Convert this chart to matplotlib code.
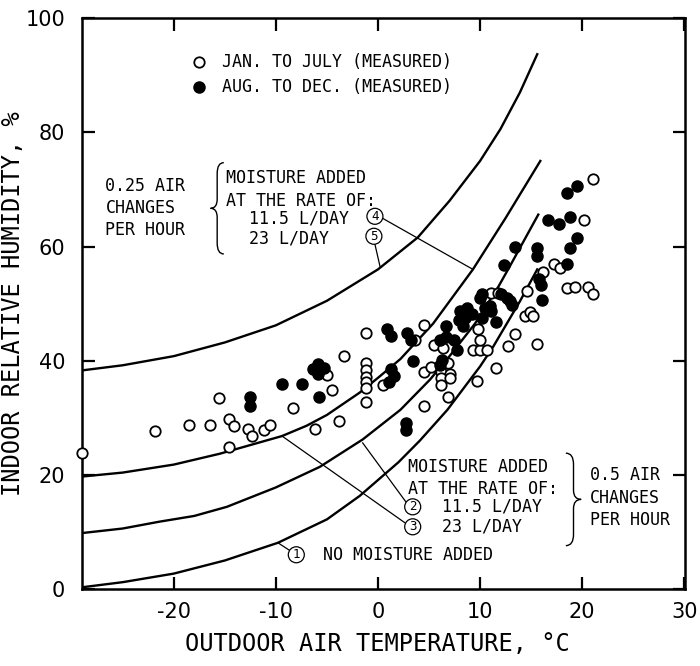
import matplotlib
matplotlib.use('Agg')
import matplotlib.pyplot as plt
from matplotlib.path import Path
from matplotlib.patches import PathPatch


# curves (outdoor temp, indoor RH)
c1_x = [-29.0, -25, -20, -15, -9.8, -5, -1.8, 2, 4.1, 6.8, 10, 11.3, 13.9, 15.6]
c1_y = [0.3, 1.2, 2.7, 5.0, 8.1, 12.2, 16.3, 22.2, 26.0, 31.4, 39.0, 42.5, 50.4, 56.0]

c2_x = [-29.0, -25, -21.4, -18, -14.8, -10, -5.7, -1.5, 2.2, 5.1, 7.1, 9.5, 11.8, 12.9, 15.7]
c2_y = [9.8, 10.6, 11.8, 12.8, 14.4, 17.8, 21.4, 26.2, 31.4, 36.7, 41.0, 46.5, 53.0, 56.5, 65.6]

c34_x = [-29.0, -25, -20, -15.5, -9.4, -7, -5, -1.8, 0, 2.2, 5.4, 9.3, 12.5, 15.9]
c34_y = [19.7, 20.4, 21.8, 23.7, 26.8, 28.6, 30.5, 34.4, 37.0, 40.3, 46.5, 56.0, 65.0, 75.0]

c5_x = [-29.0, -25, -20, -15, -10, -5, 0, 3.9, 7, 10, 12, 13.9, 15.6]
c5_y = [38.3, 39.2, 40.8, 43.2, 46.2, 50.5, 56.0, 61.6, 68.0, 75.0, 80.6, 87.0, 93.7]

# measured points, Jan to July (open)
jan_x = [-29.0, -21.8, -18.5, -16.5, -15.6, -14.6, -14.1, -14.6, -12.7, -12.3, -11.2, -10.6,
         -8.3, -6.2, -5.0, -4.5, -3.8, -3.3, -1.2, -1.2, -1.2, -1.2, -1.2, -1.2, -1.2, 0.5,
         3.6, 4.5, 4.5, 5.2, 4.5, 5.5, 6.4, 6.2, 7.1, 6.2, 7.1, 6.2, 6.9, 6.9,
         9.3, 10.0, 10.7, 10.0, 9.8, 9.7, 11.6, 12.7, 13.4, 14.4, 14.9, 15.2, 15.6, 14.6,
         16.2, 17.2, 17.8, 11.1, 11.8, 18.5, 19.3, 20.6, 21.1, 20.2, 21.1]
jan_y = [23.9, 27.7, 28.7, 28.8, 33.5, 29.8, 28.6, 24.9, 28.0, 26.8, 27.9, 28.8,
         31.7, 28.0, 37.5, 34.9, 29.4, 40.9, 44.9, 39.6, 38.4, 37.2, 36.2, 35.3, 32.8, 35.7,
         43.6, 46.2, 38.1, 38.9, 32.1, 42.7, 42.3, 38.1, 37.6, 37.0, 37.0, 35.8, 33.7, 39.6,
         41.8, 41.8, 41.8, 43.7, 45.6, 36.5, 38.8, 42.5, 44.6, 47.8, 48.6, 47.8, 43.0, 52.2,
         55.5, 56.9, 56.3, 51.9, 51.9, 52.8, 53.0, 53.0, 51.6, 64.6, 71.9]

# measured points, Aug to Dec (filled)
aug_x = [-12.5, -12.5, -9.4, -7.4, -6.4, -5.9, -5.3, -5.9, -5.8, 0.9, 1.3, 2.8, 3.2, 3.4,
         1.3, 1.6, 1.1, 2.7, 2.7, 6.1, 6.7, 6.7, 6.3, 6.1, 7.4, 7.7, 7.9, 8.3, 8.0, 8.7,
         8.5, 9.2, 10.0, 10.5, 11.0, 10.2, 11.1, 11.6, 12.0, 12.6, 12.9, 13.1, 10.2, 12.3,
         13.4, 15.6, 15.6, 15.8, 16.0, 16.1, 18.5, 18.8, 19.5, 16.7, 17.7, 18.8, 18.5, 19.5]
aug_y = [33.7, 32.1, 35.9, 35.9, 38.6, 39.5, 38.7, 37.6, 33.6, 45.6, 44.3, 44.8, 43.6, 39.9,
         38.6, 37.4, 36.2, 29.0, 27.8, 43.7, 44.2, 46.0, 40.2, 39.3, 43.7, 41.9, 47.2, 46.0, 48.7, 49.2,
         47.5, 48.1, 51.0, 49.2, 49.5, 47.5, 48.7, 46.8, 51.6, 51.0, 50.4, 49.8, 51.6, 56.8,
         60.0, 59.7, 58.4, 54.3, 53.2, 50.7, 57.0, 59.8, 61.5, 64.6, 63.9, 65.2, 69.4, 70.6]

x_ticks = [-20, -10, 0, 10, 20, 30]
y_ticks = [0, 20, 40, 60, 80, 100]

MONO = 'DejaVu Sans Mono'
FS = 12


def brace(ax, x0, x1, y0, y1):
    # curly brace, tip at x0, back at x1
    xm = (x0 + x1) / 2
    ym = (y0 + y1) / 2
    h = y1 - y0
    verts = [(x1, y1), (xm, y1), (xm, y1 - 0.12 * h),
             (xm, ym + 0.1 * h),
             (xm, ym), (x0, ym),
             (xm, ym), (xm, ym - 0.1 * h),
             (xm, y0 + 0.12 * h),
             (xm, y0), (x1, y0)]
    codes = [Path.MOVETO, Path.CURVE3, Path.CURVE3, Path.LINETO,
             Path.CURVE3, Path.CURVE3, Path.CURVE3, Path.CURVE3,
             Path.LINETO, Path.CURVE3, Path.CURVE3]
    ax.add_patch(PathPatch(Path(verts, codes), fc='none', ec='black', lw=1.0))


def note(ax, x, y, s, **kw):
    ax.text(x, y, s, fontsize=FS, family=MONO, va='center', **kw)


def circled(ax, x, y, s):
    ax.text(x, y, s, fontsize=9, family=MONO, ha='center', va='center', zorder=6,
            bbox=dict(boxstyle='circle,pad=0.12', fc='white', ec='black', lw=0.9))


fig = plt.figure(figsize=(7, 6.66), dpi=100)
ax = fig.add_axes([0.117, 0.1156, 0.862, 0.857])

for cx, cy in [(c1_x, c1_y), (c2_x, c2_y), (c34_x, c34_y), (c5_x, c5_y)]:
    ax.plot(cx, cy, color='black', lw=1.7, zorder=2, solid_joinstyle='round')

ax.plot(jan_x, jan_y, 'o', ms=7.5, mfc='white', mec='black', mew=1.3, zorder=3, clip_on=False)
ax.plot(aug_x, aug_y, 'o', ms=8, mfc='black', mec='black', zorder=4)

# legend
ax.plot(-17.5, 92.3, 'o', ms=7.5, mfc='white', mec='black', mew=1.3)
ax.plot(-17.5, 87.9, 'o', ms=8, mfc='black', mec='black')
note(ax, -15.3, 92.3, 'JAN. TO JULY (MEASURED)')
note(ax, -15.3, 87.9, 'AUG. TO DEC. (MEASURED)')

# 0.25 air changes block
note(ax, -26.7, 66.8, '0.25 AIR\nCHANGES\nPER HOUR', linespacing=1.3)
brace(ax, -16.4, -15.1, 58.7, 74.7)
note(ax, -14.9, 70.0, 'MOISTURE ADDED\nAT THE RATE OF:', linespacing=1.3)
note(ax, -12.6, 64.9, '11.5 L/DAY')
note(ax, -12.6, 61.4, '23 L/DAY')
circled(ax, -0.3, 65.3, '4')
circled(ax, -0.4, 61.8, '5')
ax.plot([0.5, 9.3], [64.9, 56.0], color='black', lw=0.9)
ax.plot([-0.3, 0.2], [60.4, 56.5], color='black', lw=0.9)

# 0.5 air changes block
note(ax, 2.9, 19.5, 'MOISTURE ADDED\nAT THE RATE OF:', linespacing=1.3)
note(ax, 6.3, 14.4, '11.5 L/DAY')
note(ax, 6.3, 10.9, '23 L/DAY')
circled(ax, 3.4, 14.4, '2')
circled(ax, 3.4, 10.9, '3')
ax.plot([2.8, -1.5], [15.1, 25.6], color='black', lw=0.9)
ax.plot([2.8, -9.4], [11.4, 26.8], color='black', lw=0.9)
brace(ax, 19.9, 18.4, 7.6, 23.8)
note(ax, 20.8, 16.0, '0.5 AIR\nCHANGES\nPER HOUR', linespacing=1.3)

circled(ax, -8.0, 6.0, '1')
ax.plot([-8.6, -9.8], [6.7, 8.1], color='black', lw=0.9)
note(ax, -5.4, 6.0, 'NO MOISTURE ADDED')

ax.set_xlim(-29, 30.1)
ax.set_ylim(0, 100)
ax.set_xticks(x_ticks)
ax.set_yticks(y_ticks)
ax.set_xticklabels([str(t) for t in x_ticks])
ax.set_yticklabels([str(t) for t in y_ticks])
ax.tick_params(direction='in', length=9, width=1.6, labelsize=15, top=True, right=True)
ax.tick_params(axis='y', pad=12)
ax.tick_params(axis='x', pad=9)
for sp in ax.spines.values():
    sp.set_linewidth(1.8)

ax.set_xlabel('OUTDOOR AIR TEMPERATURE, °C', fontsize=17, family=MONO)
ax.set_ylabel('INDOOR RELATIVE HUMIDITY, %', fontsize=17, family=MONO)
ax.xaxis.set_label_coords(0.49, -0.075)
ax.yaxis.set_label_coords(-0.095, 0.5)

fig.savefig('out.png', dpi=100)
